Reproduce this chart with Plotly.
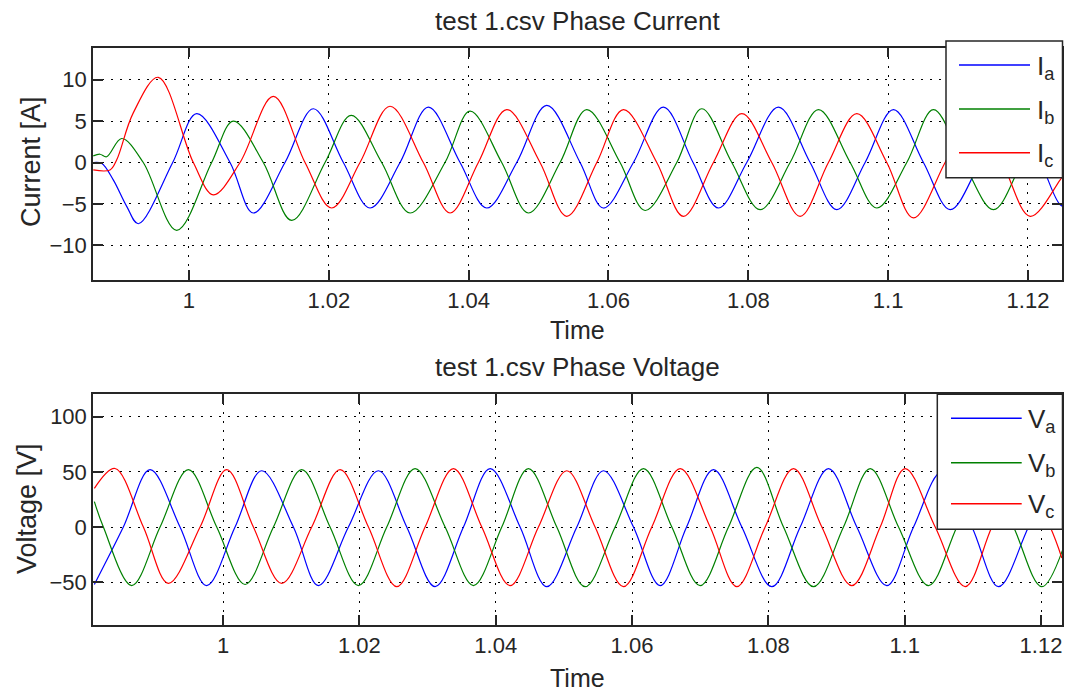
import plotly.graph_objects as go

# ---------------- data ----------------
# Phase current, top panel (time [s], current [A]) - extrema and zero crossings
t_ia = [0.98631, 0.98750, 0.98917, 0.99109, 0.99275, 0.99767, 1.00110, 1.00587, 1.00920, 1.01373,
        1.01779, 1.02208, 1.02589, 1.03019, 1.03424, 1.03877, 1.04258, 1.04688, 1.05117, 1.05594,
        1.05928, 1.06357, 1.06786, 1.07210, 1.07573, 1.07978, 1.08431, 1.08884, 1.09266, 1.09671,
        1.10076, 1.10505, 1.10887, 1.11316, 1.11746, 1.12180, 1.12461, 1.12580]
ia = [0.0, -0.1, -2.1, -5.3, -7.4, 0.0, 5.9, 0.0, -6.1, 0.0,
      6.5, 0.0, -5.5, 0.0, 6.7, 0.0, -5.5, 0.0, 6.9, 0.0,
      -5.5, 0.0, 6.7, 0.0, -5.5, 0.0, 6.7, 0.0, -5.7, 0.0,
      6.4, 0.0, -5.7, 0.0, 6.5, 0.0, -5.1, -5.5]

t_ib = [0.98631, 0.98727, 0.98822, 0.99037, 0.99346, 0.99824, 1.00324, 1.00634, 1.01063, 1.01469,
        1.01946, 1.02320, 1.02756, 1.03162, 1.03662, 1.04020, 1.04473, 1.04855, 1.05308, 1.05689,
        1.06166, 1.06524, 1.06977, 1.07334, 1.07764, 1.08169, 1.08598, 1.09003, 1.09457, 1.09838,
        1.10267, 1.10648, 1.11078, 1.11507, 1.11913, 1.12318, 1.12700]
ib = [0.8, 1.0, 0.7, 2.9, 0.0, -8.2, 0.0, 5.0, 0.0, -7.0,
      0.0, 5.7, 0.0, -6.1, 0.0, 6.2, 0.0, -6.1, 0.0, 6.4,
      0.0, -5.8, 0.0, 6.5, 0.0, -5.7, 0.0, 6.4, 0.0, -5.5,
      0.0, 6.4, 0.0, -5.7, 0.0, 6.4, 0.0]

t_ic = [0.98631, 0.98870, 0.98965, 0.99203, 0.99561, 1.00062, 1.00348, 1.00730, 1.01206, 1.01660,
        1.02041, 1.02446, 1.02875, 1.03352, 1.03734, 1.04139, 1.04545, 1.05021, 1.05403, 1.05833,
        1.06214, 1.06691, 1.07072, 1.07501, 1.07907, 1.08336, 1.08741, 1.09146, 1.09552, 1.09981,
        1.10362, 1.10815, 1.11200, 1.11630, 1.12032, 1.12461, 1.12620]
ic = [-0.9, -0.9, 0.3, 6.0, 10.3, 0.0, -3.9, 0.0, 8.0, 0.0,
      -5.5, 0.0, 6.8, 0.0, -6.1, 0.0, 6.4, 0.0, -6.5, 0.0,
      6.4, 0.0, -6.5, 0.0, 5.9, 0.0, -6.5, 0.0, 5.9, 0.0,
      -6.7, 0.0, 6.0, 0.0, -6.5, -2.1, 0.0]

# Phase voltage, bottom panel (time [s], voltage [V])
t_va = [0.98112, 0.98537, 0.98929, 0.99369, 0.99760, 1.00176, 1.00567, 1.01032, 1.01399, 1.01839,
        1.02279, 1.02695, 1.03111, 1.03527, 1.03918, 1.04358, 1.04749, 1.05190, 1.05581, 1.06021,
        1.06412, 1.06800, 1.07195, 1.07611, 1.08051, 1.08467, 1.08882, 1.09298, 1.09738, 1.10130,
        1.10545, 1.10986, 1.11377, 1.11817, 1.12233, 1.12650]
va = [-52, 0, 52, 0, -53, 0, 51, 0, -53, 0,
      51, 0, -54, 0, 53, 0, -54, 0, 51, 0,
      -53, 0, 52, 0, -54, 0, 53, 0, -53, 0,
      50, 0, -54, 0, 52, 0]

t_vb = [0.98112, 0.98244, 0.98660, 0.99076, 0.99491, 0.99907, 1.00323, 1.00739, 1.01154, 1.01570,
        1.01986, 1.02402, 1.02817, 1.03258, 1.03673, 1.04089, 1.04480, 1.04896, 1.05312, 1.05752,
        1.06168, 1.06584, 1.06999, 1.07415, 1.07831, 1.08222, 1.08662, 1.09102, 1.09494, 1.09910,
        1.10350, 1.10766, 1.11181, 1.11597, 1.12013, 1.12430]
vb = [23, 0, -53, 0, 52, 0, -52, 0, 52, 0,
      -53, 0, 53, 0, -53, 0, 53, 0, -54, 0,
      53, 0, -53, 0, 54, 0, -54, 0, 53, 0,
      -53, 0, 52, 0, -54, 0]

t_vc = [0.98112, 0.98415, 0.98831, 0.99198, 0.99663, 1.00054, 1.00445, 1.00861, 1.01301, 1.01717,
        1.02133, 1.02548, 1.02964, 1.03380, 1.03796, 1.04211, 1.04627, 1.05043, 1.05458, 1.05874,
        1.06290, 1.06706, 1.07146, 1.07537, 1.07953, 1.08369, 1.08785, 1.09225, 1.09641, 1.10007,
        1.10448, 1.10888, 1.11279, 1.11695, 1.12135, 1.12306]
vc = [35, 53, 0, -51, 0, 52, 0, -51, 0, 52,
      0, -54, 0, 53, 0, -53, 0, 51, 0, -54,
      0, 53, 0, -54, 0, 53, 0, -53, 0, 53,
      0, -54, 0, 52, 0, -28]

x_tickvals = [1.0, 1.02, 1.04, 1.06, 1.08, 1.1, 1.12]
x_ticktext = ["1", "1.02", "1.04", "1.06", "1.08", "1.1", "1.12"]
i_tickvals = [-10, -5, 0, 5, 10]
v_tickvals = [-50, 0, 50, 100]

current_names = ["I<sub>a</sub>", "I<sub>b</sub>", "I<sub>c</sub>"]
voltage_names = ["V<sub>a</sub>", "V<sub>b</sub>", "V<sub>c</sub>"]
colors = ["#0000ff", "#008000", "#ff0000"]

# ---------------- figure ----------------
W, H = 1066, 694
FONT = "Liberation Sans, Arial, Helvetica, sans-serif"
INK = "#262626"


def px(x):
    return x / W


def py(y):
    return 1 - y / H


fig = go.Figure()
for t, v, c in zip([t_ia, t_ib, t_ic], [ia, ib, ic], colors):
    fig.add_trace(go.Scatter(x=t, y=v, mode="lines", xaxis="x", yaxis="y",
                             line=dict(color=c, width=1.2, shape="spline", smoothing=1.0),
                             showlegend=False, hoverinfo="skip"))
for t, v, c in zip([t_va, t_vb, t_vc], [va, vb, vc], colors):
    fig.add_trace(go.Scatter(x=t, y=v, mode="lines", xaxis="x2", yaxis="y2",
                             line=dict(color=c, width=1.2, shape="spline", smoothing=1.0),
                             showlegend=False, hoverinfo="skip"))

axis_common = dict(showline=True, linecolor=INK, linewidth=1.5, mirror="ticks",
                   ticks="inside", ticklen=10, tickwidth=1.5, tickcolor=INK,
                   showgrid=True, gridcolor="black", gridwidth=1, griddash="2px,7px",
                   zeroline=False, tickfont=dict(family=FONT, size=22, color=INK))

xdom = [px(93), px(1062)]
fig.update_layout(
    width=W, height=H, margin=dict(l=0, r=0, t=0, b=0),
    paper_bgcolor="white", plot_bgcolor="white", showlegend=False,
    font=dict(family=FONT, color=INK),
    xaxis=dict(domain=xdom, anchor="y", range=[0.98627, 1.12487],
               tickvals=x_tickvals, ticktext=x_ticktext, **axis_common),
    yaxis=dict(domain=[py(280), py(47.5)], anchor="x", range=[-14.2, 13.9],
               tickvals=i_tickvals, **axis_common),
    xaxis2=dict(domain=xdom, anchor="y2", range=[0.98092, 1.12308],
                tickvals=x_tickvals, ticktext=x_ticktext, **axis_common),
    yaxis2=dict(domain=[py(625), py(394)], anchor="x2", range=[-88.7, 120.5],
                tickvals=v_tickvals, **axis_common),
)

annotations = []
shapes = []


def text(x, y, s, size, angle=0, xanchor="center"):
    annotations.append(dict(x=px(x), y=py(y), xref="paper", yref="paper", text=s,
                            showarrow=False, textangle=angle, xanchor=xanchor, yanchor="middle",
                            font=dict(family=FONT, size=size, color=INK)))


text(577.5, 21, "test 1.csv Phase Current", 26)
text(577.5, 330, "Time", 25)
text(31, 162, "Current [A]", 27, angle=-90)
text(577.5, 367, "test 1.csv Phase Voltage", 26)
text(577.5, 678, "Time", 25)
text(27, 509, "Voltage [V]", 27, angle=-90)

# legends (boxes drawn over the traces, like MATLAB)
legends = [
    dict(box=(946, 41, 1062.5, 177.7), x0=959, x1=1030, xt=1035, ys=[65, 109, 152.7], names=current_names),
    dict(box=(937.3, 394.3, 1062.5, 529.3), x0=951, x1=1021.7, xt=1026, ys=[418.3, 462.7, 503.7], names=voltage_names),
]
for lg in legends:
    bx0, by0, bx1, by1 = lg["box"]
    shapes.append(dict(type="rect", xref="paper", yref="paper", x0=px(bx0), x1=px(bx1),
                       y0=py(by1), y1=py(by0), fillcolor="white",
                       line=dict(color=INK, width=1.5), layer="above"))
    for yy, name, c in zip(lg["ys"], lg["names"], colors):
        shapes.append(dict(type="line", xref="paper", yref="paper", x0=px(lg["x0"]), x1=px(lg["x1"]),
                           y0=py(yy), y1=py(yy), line=dict(color=c, width=1.5), layer="above"))
        text(lg["xt"], yy + 2, name, 26, xanchor="left")

fig.update_layout(annotations=annotations, shapes=shapes)
fig.write_html("out.html")
